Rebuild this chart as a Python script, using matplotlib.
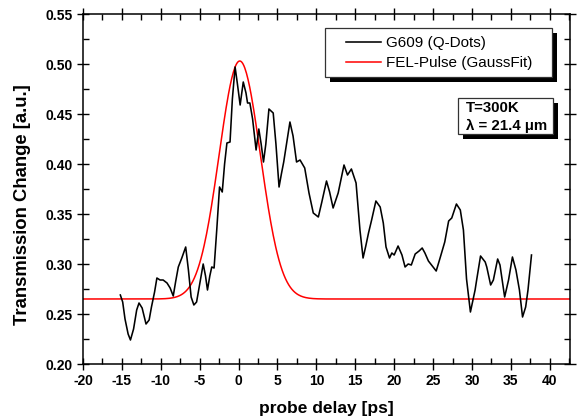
import numpy as np
import matplotlib
matplotlib.use("Agg")
import matplotlib.pyplot as plt
from matplotlib.patches import Rectangle
from matplotlib.ticker import MultipleLocator, FormatStrFormatter

plt.rcParams['font.family'] = ['Liberation Sans', 'DejaVu Sans']
plt.rcParams['axes.unicode_minus'] = False

# ---- data ----
delay_ps = [-15.2, -14.9, -14.6, -14.2, -13.9, -13.5, -13.1, -12.8, -12.4, -11.9,
            -11.5, -11.2, -10.8, -10.5, -10.1, -9.7, -9.2, -8.8, -8.4, -8.1,
            -7.75, -7.3, -6.8, -6.45, -6.1, -5.75, -5.4, -5.0, -4.55, -4.25,
            -4.0, -3.7, -3.45, -3.15, -2.8, -2.45, -2.1, -1.8, -1.5, -1.1,
            -0.8, -0.45, -0.15, 0.2, 0.6, 0.95, 1.15, 1.45, 1.8, 2.1,
            2.25, 2.6, 2.9, 3.2, 3.5, 3.9, 4.45, 4.8, 5.2, 5.5,
            5.8, 6.2, 6.6, 7.0, 7.45, 7.9, 8.5, 9.05, 9.6, 10.25,
            10.7, 11.3, 11.7, 12.15, 12.8, 13.55, 14.0, 14.5, 15.1, 15.6,
            16.0, 16.35, 16.7, 17.1, 17.65, 18.2, 18.6, 18.95, 19.4, 19.7,
            20.0, 20.5, 21.0, 21.4, 21.8, 22.2, 22.7, 23.2, 23.6, 23.95,
            24.4, 24.8, 25.4, 25.9, 26.5, 27.0, 27.4, 28.0, 28.5, 28.9,
            29.3, 29.8, 30.4, 30.6, 31.1, 31.7, 31.9, 32.4, 32.75, 33.3,
            33.6, 33.9, 34.2, 34.7, 35.2, 35.65, 36.1, 36.5, 36.9, 37.2, 37.65]
qdots = [0.269, 0.262, 0.245, 0.230, 0.224, 0.235, 0.254, 0.261, 0.256, 0.240,
         0.244, 0.257, 0.272, 0.286, 0.284, 0.284, 0.281, 0.276, 0.268, 0.282,
         0.297, 0.306, 0.317, 0.294, 0.267, 0.259, 0.262, 0.280, 0.300, 0.288,
         0.274, 0.288, 0.297, 0.296, 0.335, 0.377, 0.372, 0.400, 0.421, 0.422,
         0.465, 0.497, 0.480, 0.459, 0.482, 0.471, 0.461, 0.461, 0.445, 0.424,
         0.414, 0.435, 0.420, 0.402, 0.420, 0.455, 0.451, 0.420, 0.377, 0.390,
         0.402, 0.422, 0.442, 0.428, 0.402, 0.404, 0.396, 0.371, 0.351, 0.347,
         0.362, 0.383, 0.372, 0.356, 0.371, 0.399, 0.389, 0.395, 0.381, 0.334,
         0.306, 0.318, 0.331, 0.344, 0.363, 0.357, 0.341, 0.317, 0.306, 0.311,
         0.309, 0.318, 0.309, 0.297, 0.300, 0.299, 0.310, 0.313, 0.316, 0.311,
         0.303, 0.299, 0.293, 0.306, 0.322, 0.343, 0.346, 0.360, 0.354, 0.334,
         0.285, 0.252, 0.274, 0.284, 0.308, 0.302, 0.297, 0.279, 0.284, 0.305,
         0.299, 0.283, 0.267, 0.284, 0.307, 0.294, 0.274, 0.247, 0.257, 0.274, 0.309]

# Gauss fit parameters of the FEL pulse
fit_offset = 0.265
fit_amplitude = 0.238
fit_center = 0.15
fit_sigma = 2.65
fit_range = (-20.0, 42.6)

x_ticks = [-20, -15, -10, -5, 0, 5, 10, 15, 20, 25, 30, 35, 40]
y_ticks = [0.20, 0.25, 0.30, 0.35, 0.40, 0.45, 0.50, 0.55]

W, H = 577, 416
AX_L, AX_R, AX_T, AX_B = 83, 570, 14, 364
fig = plt.figure(figsize=(W / 100, H / 100), dpi=100)
ax = fig.add_axes([AX_L / W, 1 - AX_B / H, (AX_R - AX_L) / W, (AX_B - AX_T) / H])


def axfrac(px, py):
    return (px - AX_L) / (AX_R - AX_L), (AX_B - py) / (AX_B - AX_T)


xf = np.linspace(fit_range[0], fit_range[1], 600)
yf = fit_offset + fit_amplitude * np.exp(-(xf - fit_center) ** 2 / (2 * fit_sigma ** 2))

ax.plot(delay_ps, qdots, color='black', lw=1.15, label='G609 (Q-Dots)', zorder=3,
        solid_joinstyle='round')
ax.plot(xf, yf, color='#ff0000', lw=1.1, label='FEL-Pulse (GaussFit)', zorder=2)

ax.set_xlim(fit_range)
ax.set_ylim(0.20, 0.55)
ax.set_xticks(x_ticks)
ax.set_yticks(y_ticks)
ax.yaxis.set_major_formatter(FormatStrFormatter('%.2f'))
ax.xaxis.set_minor_locator(MultipleLocator(2.5))
ax.yaxis.set_minor_locator(MultipleLocator(0.025))
ax.tick_params(which='major', direction='inout', length=9, width=1.0,
               top=True, right=True, labelsize=10, pad=3)
ax.tick_params(which='minor', direction='in', length=4.5, width=1.0,
               top=True, right=True)
for lab in ax.get_xticklabels() + ax.get_yticklabels():
    lab.set_fontweight('bold')
for sp in ax.spines.values():
    sp.set_linewidth(1.1)

ax.set_xlabel('probe delay [ps]', fontsize=12.5, fontweight='bold', labelpad=9)
ax.set_ylabel('Transmission Change [a.u.]', fontsize=13.3, fontweight='bold')
ax.yaxis.set_label_coords(-0.106, 0.454)

# legend frame + shadow (drawn as patches), legend entries via ax.legend
SH = 5
def framed_box(x0, y0, x1, y1):
    ax0, ay1 = axfrac(x0, y0)
    ax1, ay0 = axfrac(x1, y1)
    sx0, sy1 = axfrac(x0 + SH, y0 + SH)
    sx1, sy0 = axfrac(x1 + SH, y1 + SH)
    ax.add_patch(Rectangle((sx0, sy0), sx1 - sx0, sy1 - sy0, transform=ax.transAxes,
                           fc='black', ec='none', zorder=8, clip_on=False))
    ax.add_patch(Rectangle((ax0, ay0), ax1 - ax0, ay1 - ay0, transform=ax.transAxes,
                           fc='white', ec='#333333', lw=0.9, zorder=9, clip_on=False))

framed_box(325, 28, 552, 77)
framed_box(458, 98, 553, 134)

leg = ax.legend(loc='upper left', bbox_to_anchor=axfrac(346, 36),
                borderaxespad=0, borderpad=0, fontsize=11, frameon=False,
                handlelength=2.3, handletextpad=0.33, labelspacing=0.42)
leg.set_zorder(10)

tx, ty = axfrac(466, 108)
ax.text(tx, ty, 'T=300K', transform=ax.transAxes, ha='left', va='center',
        fontsize=10.8, fontweight='bold', zorder=10)
tx, ty = axfrac(466, 126)
ax.text(tx, ty, '\u03bb = 21.4 \u03bcm', transform=ax.transAxes, ha='left', va='center',
        fontsize=10.8, fontweight='bold', zorder=10)

fig.savefig('out.png', dpi=100)
